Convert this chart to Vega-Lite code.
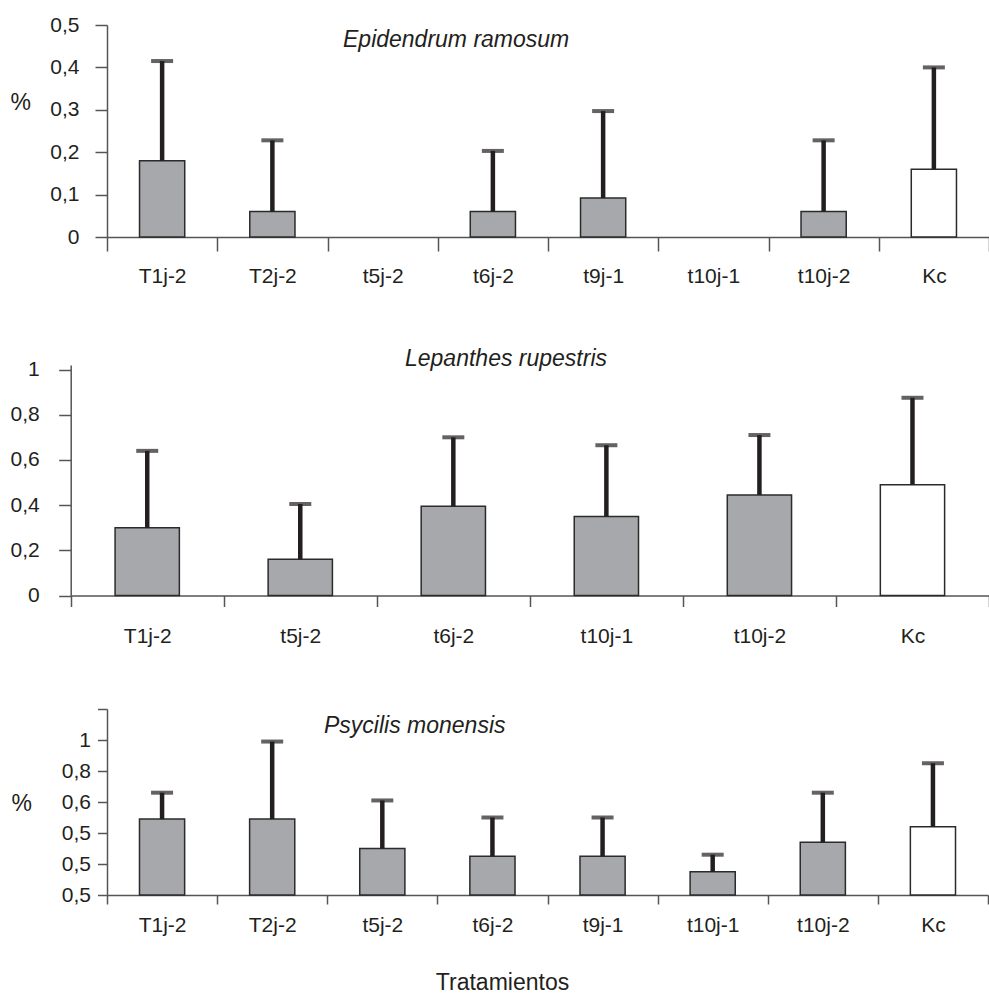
{
  "$schema": "https://vega.github.io/schema/vega-lite/v6.json",
  "padding": {"left": 10, "top": 14, "right": 0, "bottom": 0},
  "background": "white",
  "spacing": 61,
  "config": {
    "view": {"stroke": null},
    "font": "Liberation Sans",
    "axis": {
      "domainColor": "#555555", "domainWidth": 1.5,
      "tickColor": "#555555", "tickWidth": 1.5,
      "labelFont": "Liberation Sans", "labelFontSize": 21, "labelColor": "#231f20",
      "titleFont": "Liberation Sans", "titleFontSize": 23, "titleFontWeight": "normal", "titleColor": "#231f20",
      "grid": false, "labelOverlap": false
    },
    "title": {"font": "Liberation Sans", "fontSize": 23, "fontStyle": "italic", "fontWeight": "normal", "color": "#231f20"}
  },
  "vconcat": [
    {
      "width": 882, "height": 212,
      "title": {"text": "Epidendrum ramosum", "anchor": "start", "frame": "group", "dx": 236, "offset": -56, "baseline": "alphabetic"},
      "data": {"values": [
        {"tratamiento": "T1j-2", "media": 0.18, "superior": 0.415, "tipo": "tratamiento"},
        {"tratamiento": "T2j-2", "media": 0.06, "superior": 0.228, "tipo": "tratamiento"},
        {"tratamiento": "t5j-2", "media": 0, "superior": 0, "tipo": "tratamiento"},
        {"tratamiento": "t6j-2", "media": 0.06, "superior": 0.203, "tipo": "tratamiento"},
        {"tratamiento": "t9j-1", "media": 0.092, "superior": 0.297, "tipo": "tratamiento"},
        {"tratamiento": "t10j-1", "media": 0, "superior": 0, "tipo": "tratamiento"},
        {"tratamiento": "t10j-2", "media": 0.06, "superior": 0.228, "tipo": "tratamiento"},
        {"tratamiento": "Kc", "media": 0.16, "superior": 0.40, "tipo": "control"}
      ]},
      "encoding": {
        "x": {"field": "tratamiento", "type": "nominal", "sort": null,
          "scale": {"domain": ["T1j-2","T2j-2","t5j-2","t6j-2","t9j-1","t10j-1","t10j-2","Kc"], "paddingInner": 0, "paddingOuter": 0},
          "axis": {"title": null, "labelAngle": 0, "tickBand": "extent", "tickSize": 14, "labelPadding": 14}}
      },
      "layer": [
        {
          "transform": [{"filter": "datum.media > 0"}],
          "mark": {"type": "bar", "width": {"band": 0.41}, "stroke": "#2b2b2b", "strokeWidth": 1.5},
          "encoding": {
            "y": {"field": "media", "type": "quantitative", "scale": {"domain": [0, 0.5], "nice": false},
              "axis": {"values": [0, 0.1, 0.2, 0.3, 0.4, 0.5], "tickCount": 12, "labelExpr": "replace(format(datum.value, '.1~f'), '.', ',')",
                "tickSize": 12, "labelPadding": 16, "labelOverlap": false, "title": "%", "titleAngle": 0, "titleX": -97, "titleY": 77,
                "titleAlign": "left", "titleBaseline": "middle"}},
            "fill": {"field": "tipo", "type": "nominal", "scale": {"domain": ["tratamiento", "control"], "range": ["#a7a8ab", "#ffffff"]}, "legend": null}
          }
        },
        {
          "transform": [{"filter": "datum.superior > 0"}],
          "mark": {"type": "rule", "color": "#231f20", "strokeWidth": 4.5},
          "encoding": {"y": {"field": "media", "type": "quantitative"}, "y2": {"field": "superior"}}
        },
        {
          "transform": [{"filter": "datum.superior > 0"}],
          "mark": {"type": "tick", "color": "#231f20", "size": 22, "thickness": 4, "orient": "horizontal"},
          "encoding": {"y": {"field": "superior", "type": "quantitative"}}
        }
      ]
    },
    {
      "width": 882, "height": 230.5,
      "title": {"text": "Lepanthes rupestris", "anchor": "start", "frame": "group", "dx": 298, "offset": -30, "baseline": "alphabetic"},
      "data": {"values": [
        {"tratamiento": "T1j-2", "media": 0.30, "superior": 0.64, "tipo": "tratamiento"},
        {"tratamiento": "t5j-2", "media": 0.16, "superior": 0.405, "tipo": "tratamiento"},
        {"tratamiento": "t6j-2", "media": 0.395, "superior": 0.70, "tipo": "tratamiento"},
        {"tratamiento": "t10j-1", "media": 0.35, "superior": 0.665, "tipo": "tratamiento"},
        {"tratamiento": "t10j-2", "media": 0.445, "superior": 0.71, "tipo": "tratamiento"},
        {"tratamiento": "Kc", "media": 0.49, "superior": 0.875, "tipo": "control"}
      ]},
      "encoding": {
        "x": {"field": "tratamiento", "type": "nominal", "sort": null,
          "scale": {"domain": ["T1j-2","t5j-2","t6j-2","t10j-1","t10j-2","Kc"], "paddingInner": 0, "paddingOuter": 0, "range": [-36.3, 882]},
          "axis": {"title": null, "labelAngle": 0, "tickBand": "extent", "tickSize": 11, "labelPadding": 19}}
      },
      "layer": [
        {
          "mark": {"type": "bar", "width": {"band": 0.42}, "stroke": "#2b2b2b", "strokeWidth": 1.5},
          "encoding": {
            "y": {"field": "media", "type": "quantitative", "scale": {"domain": [0, 1.02], "nice": false},
              "axis": {"values": [0, 0.2, 0.4, 0.6, 0.8, 1], "tickCount": 12, "labelExpr": "replace(format(datum.value, '.1~f'), '.', ',')",
                "offset": 36.3, "tickSize": 12, "labelPadding": 19.5, "labelOverlap": false, "title": null}},
            "fill": {"field": "tipo", "type": "nominal", "scale": {"domain": ["tratamiento", "control"], "range": ["#a7a8ab", "#ffffff"]}, "legend": null}
          }
        },
        {
          "mark": {"type": "rule", "color": "#231f20", "strokeWidth": 4.5},
          "encoding": {"y": {"field": "media", "type": "quantitative"}, "y2": {"field": "superior"}}
        },
        {
          "mark": {"type": "tick", "color": "#231f20", "size": 22, "thickness": 4, "orient": "horizontal"},
          "encoding": {"y": {"field": "superior", "type": "quantitative"}}
        }
      ]
    },
    {
      "width": 881, "height": 186,
      "title": {"text": "Psycilis monensis", "anchor": "start", "frame": "group", "dx": 217, "offset": -48, "baseline": "alphabetic"},
      "data": {"values": [
        {"tratamiento": "T1j-2", "media": 0.49, "superior": 0.66, "tipo": "tratamiento"},
        {"tratamiento": "T2j-2", "media": 0.49, "superior": 0.99, "tipo": "tratamiento"},
        {"tratamiento": "t5j-2", "media": 0.30, "superior": 0.61, "tipo": "tratamiento"},
        {"tratamiento": "t6j-2", "media": 0.25, "superior": 0.50, "tipo": "tratamiento"},
        {"tratamiento": "t9j-1", "media": 0.25, "superior": 0.50, "tipo": "tratamiento"},
        {"tratamiento": "t10j-1", "media": 0.15, "superior": 0.26, "tipo": "tratamiento"},
        {"tratamiento": "t10j-2", "media": 0.34, "superior": 0.66, "tipo": "tratamiento"},
        {"tratamiento": "Kc", "media": 0.44, "superior": 0.85, "tipo": "control"}
      ]},
      "encoding": {
        "x": {"field": "tratamiento", "type": "nominal", "sort": null,
          "scale": {"domain": ["T1j-2","T2j-2","t5j-2","t6j-2","t9j-1","t10j-1","t10j-2","Kc"], "paddingInner": 0, "paddingOuter": 0},
          "axis": {"title": "Tratamientos", "labelAngle": 0, "tickBand": "extent", "tickSize": 9, "labelPadding": 10,
            "titleX": 395, "titleY": 94, "titleFontSize": 23, "titleAlign": "center", "titleBaseline": "alphabetic"}}
      },
      "layer": [
        {
          "mark": {"type": "bar", "width": {"band": 0.41}, "stroke": "#2b2b2b", "strokeWidth": 1.5},
          "encoding": {
            "y": {"field": "media", "type": "quantitative", "scale": {"domain": [0, 1.2], "nice": false},
              "axis": {"values": [0, 0.2, 0.4, 0.6, 0.8, 1, 1.2], "tickCount": 12,
                "labelExpr": "datum.value < 0.5 ? '0,5' : datum.value < 0.7 ? '0,6' : datum.value < 0.9 ? '0,8' : datum.value < 1.1 ? '1' : ''",
                "labelFontSize": {"condition": {"test": "datum.value > 1.1", "value": 0}, "value": 21},
                "labelOverlap": false,
                "tickSize": 9.5, "labelPadding": 7, "title": "%", "titleAngle": 0, "titleX": -96, "titleY": 94,
                "titleAlign": "left", "titleBaseline": "middle"}},
            "fill": {"field": "tipo", "type": "nominal", "scale": {"domain": ["tratamiento", "control"], "range": ["#a7a8ab", "#ffffff"]}, "legend": null}
          }
        },
        {
          "mark": {"type": "rule", "color": "#231f20", "strokeWidth": 4.5},
          "encoding": {"y": {"field": "media", "type": "quantitative"}, "y2": {"field": "superior"}}
        },
        {
          "mark": {"type": "tick", "color": "#231f20", "size": 22, "thickness": 4, "orient": "horizontal"},
          "encoding": {"y": {"field": "superior", "type": "quantitative"}}
        }
      ]
    }
  ]
}
